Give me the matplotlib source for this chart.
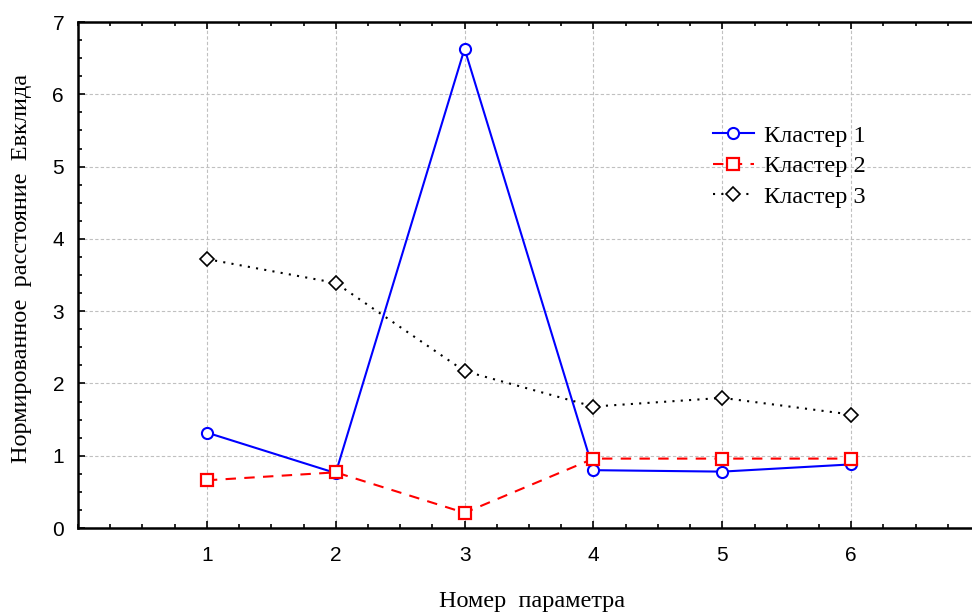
import matplotlib
matplotlib.use("Agg")
import matplotlib.pyplot as plt
from matplotlib.ticker import MultipleLocator

params = [1, 2, 3, 4, 5, 6]
cluster1 = [1.32, 0.76, 6.63, 0.80, 0.78, 0.88]
cluster2 = [0.66, 0.77, 0.21, 0.96, 0.96, 0.96]
cluster3 = [3.72, 3.39, 2.17, 1.68, 1.80, 1.57]
labels = ["Кластер 1", "Кластер 2", "Кластер 3"]
xlabel = "Номер  параметра"
ylabel = "Нормированное  расстояние  Евклида"

fig = plt.figure(figsize=(9.72, 6.13), dpi=100)
ax = fig.add_axes([78/972, (613-528)/613, (980-78)/972, (528-22)/613])

serif = "Liberation Serif"
sans = "Liberation Sans"

ax.plot(params, cluster1, color="#0000ff", lw=1.5, marker="o", ms=8,
        mfc="white", mec="#0000ff", mew=1.5, label=labels[0], zorder=3)
ax.plot(params, cluster2, color="#ff0000", lw=1.5, ls=(0, (5, 4)), marker="s", ms=8.5,
        mfc="white", mec="#ff0000", mew=1.6, label=labels[1], zorder=3)
ax.plot(params, cluster3, color="black", lw=1.5, ls=(0, (1, 3)), marker="D", ms=7.5,
        mfc="white", mec="black", mew=1.2, label=labels[2], zorder=3)

ax.set_xlim(0, 7)
ax.set_ylim(0, 7)
ax.xaxis.set_major_locator(MultipleLocator(1))
ax.xaxis.set_minor_locator(MultipleLocator(0.25))
ax.yaxis.set_major_locator(MultipleLocator(1))
ax.yaxis.set_minor_locator(MultipleLocator(0.25))
ax.set_xticks(params)
ax.set_xticklabels([str(p) for p in params])
ax.set_yticks(range(0, 8))

ax.tick_params(which="both", direction="in", top=True, right=False,
               labelsize=15, width=1.2)
ax.tick_params(which="major", length=5)
ax.tick_params(which="minor", length=3)
ax.tick_params(axis="x", which="major", pad=13)
ax.tick_params(axis="y", which="major", pad=10)
for lab in ax.get_xticklabels() + ax.get_yticklabels():
    lab.set_fontfamily(sans)

for s in ["left", "bottom", "top"]:
    ax.spines[s].set_linewidth(1.8)
ax.spines["right"].set_visible(False)

ax.grid(True, which="major", color="#c0c0c0", ls=(0, (3, 2)), lw=0.8)
ax.set_axisbelow(True)

fig.text(532/972, 1 - 601/613, xlabel, ha="center", va="center",
         fontsize=17.5, family=serif)
fig.text(22/972, 1 - 268/613, ylabel, ha="center", va="center",
         rotation=90, fontsize=17.5, family=serif)

leg = ax.legend(loc="upper left", bbox_to_anchor=(703/972, 1 - 115/613),
                bbox_transform=fig.transFigure, frameon=False,
                prop={"family": serif, "size": 17.5}, handlelength=1.7,
                handletextpad=0.4, labelspacing=0.35, borderaxespad=0)

fig.savefig("out.png", dpi=100)
